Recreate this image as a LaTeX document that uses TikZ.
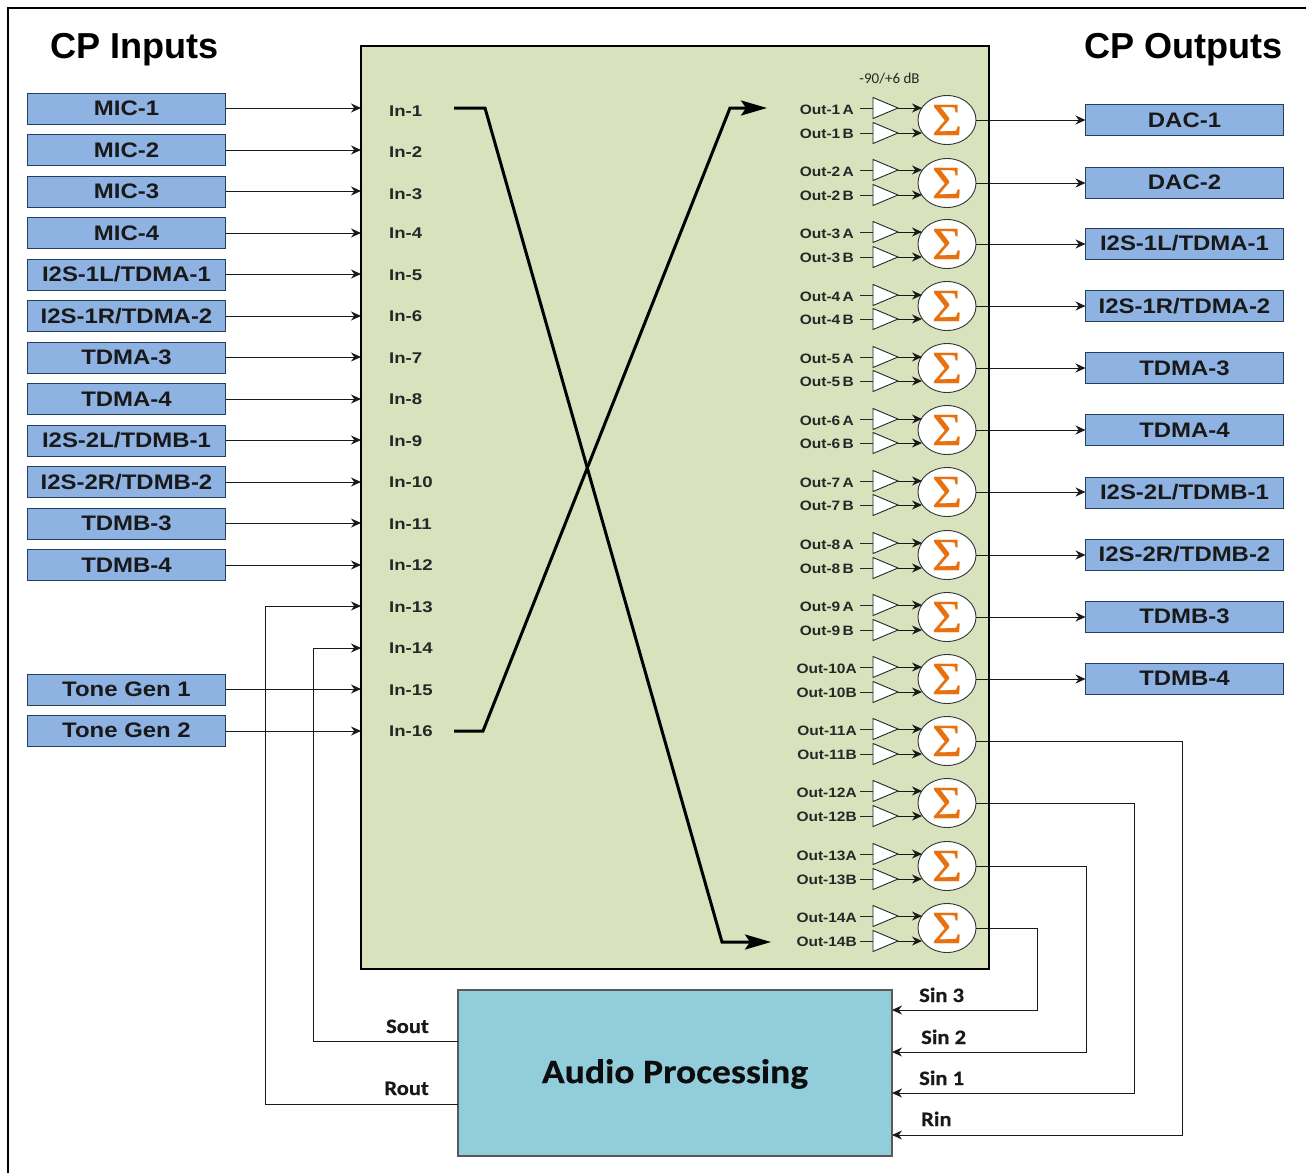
\documentclass[tikz,border=0pt]{standalone}
\usepackage{fontspec}
\usetikzlibrary{arrows.meta,shapes.geometric,calc}
\setmainfont{Liberation Sans}
\newfontfamily\widefont[FakeStretch=1.14]{Liberation Sans}
\newfontfamily\midfont[FakeStretch=1.2]{Liberation Sans}
\newfontfamily\calfont{Carlito}
\newfontfamily\calbold[FakeStretch=1.1,FakeBold=0.4]{Carlito}
\newfontfamily\sigfont[FakeStretch=1.12,FakeBold=0.6]{Liberation Serif}
\definecolor{panelgreen}{HTML}{D8E3BE}
\definecolor{portblue}{HTML}{8EB2E2}
\definecolor{portedge}{HTML}{24405F}
\definecolor{dspblue}{HTML}{92CDDC}
\definecolor{sigorange}{HTML}{E8710F}
\tikzset{
  x=1pt,y=-1pt,
  portbox/.style={draw=portedge,fill=portblue,line width=1pt,minimum width=198pt,minimum height=31pt,inner sep=0pt,outer sep=0pt,
    font=\widefont\bfseries\fontsize{21}{24}\selectfont,text=black!90},
  title/.style={font=\bfseries\fontsize{36.1}{40}\selectfont,inner sep=0pt},
  inlab/.style={anchor=west,inner sep=0pt,font=\midfont\bfseries\fontsize{15.5}{18}\selectfont,text=black!85},
  outlab/.style={anchor=east,inner ysep=0pt,font=\widefont\bfseries\fontsize{13.6}{15}\selectfont,text=black!85},
  amp/.style={draw=black!85,fill=white,line width=.9pt,isosceles triangle,isosceles triangle stretches,
    minimum width=21pt,minimum height=25pt,inner sep=0pt,outer sep=0pt,anchor=lower side},
  sumnode/.style={draw=black!80,fill=white,ellipse,line width=.9pt,minimum width=58pt,minimum height=49pt,inner sep=0pt,outer sep=0pt,
    text=sigorange,font=\sigfont\fontsize{46}{46}\selectfont},
  wire/.style={line width=1pt,draw=black!90,-{Stealth[length=10pt,width=9pt]}},
  stub/.style={line width=1pt,draw=black!85},
  xwire/.style={line width=3pt,draw=black,line join=miter,-{Stealth[length=26pt,width=15pt,inset=5pt]}},
  sig/.style={font=\calbold\bfseries\fontsize{20.5}{22}\selectfont,inner sep=0pt,text=black!90},
}
\begin{document}
\begin{tikzpicture}
\useasboundingbox (0,0) rectangle (1306,1173);
\draw[line width=2pt] (8,1173) -- (8,8) -- (1306,8);

\node[title,anchor=base west] (tin) at (50,58) {CP Inputs};
\node[title,anchor=base east] (tout) at (1283,58) {CP Outputs};

% panel
\node[draw=black,line width=2.5pt,fill=panelgreen,minimum width=628pt,minimum height=923pt,inner sep=0pt,outer sep=0pt,anchor=north west] (panel) at (361,46) {};
\node[anchor=base,inner sep=0pt,font=\calfont\fontsize{15}{17}\selectfont,text=black!85] (gain) at (889.5,83) {-90/+6 dB};

% audio processing
\node[draw=black!65,line width=1.2pt,fill=dspblue,minimum width=434pt,minimum height=166pt,inner sep=0pt,outer sep=0pt,anchor=north west] (dsp) at (458,990) {};
\node[inner sep=0pt,font=\calbold\bfseries\fontsize{34.2}{36}\selectfont,text=black!95] (dsptext) at (675,1074) {Audio Processing};

% input labels and entry points
\foreach \n/\yy/\yl in {1/108/111,2/150/152,3/191/194,4/233/233,5/274/275,6/316/316,7/357/358,8/399/399,
    9/440/441,10/482/482,11/523/524,12/565/565,13/606/607,14/648/648,15/689/690,16/731/731}{
  \node[inlab] (in\n) at (389,\yl) {In-\n};
  \coordinate (pin\n) at (361,\yy);
}

% input ports
\foreach \n/\yy/\t in {1/108.5/MIC-1,2/150/MIC-2,3/191.5/MIC-3,4/233/MIC-4,
    5/274.5/I2S-1L\slash TDMA-1,6/316/I2S-1R\slash TDMA-2,7/357.5/TDMA-3,8/399/TDMA-4,
    9/440.5/I2S-2L\slash TDMB-1,10/482/I2S-2R\slash TDMB-2,11/523.5/TDMB-3,12/565/TDMB-4,
    15/689.5/Tone Gen~1,16/730.5/Tone Gen~2}{
  \node[portbox] (ip\n) at (126.5,\yy) {\t};
  \draw[wire] (ip\n.east |- pin\n) -- (pin\n);
}

% output ports
\foreach \n/\yy/\t in {1/120/DAC-1,2/182.5/DAC-2,3/243.5/I2S-1L\slash TDMA-1,4/306/I2S-1R\slash TDMA-2,
    5/368/TDMA-3,6/430/TDMA-4,7/492.5/I2S-2L\slash TDMB-1,8/554.5/I2S-2R\slash TDMB-2,9/616.5/TDMB-3,10/678.5/TDMB-4}{
  \node[portbox] (op\n) at (1184.5,\yy) {\t};
}

% mixers
\foreach \n/\yy/\ya/\yb in {1/120/108/133,2/183/170/195,3/244/232/257,4/306/295/319,5/368/357/381,
    6/430/419/443,7/492/481/505,8/555/543/568,9/617/605/630,10/679/667/692,
    11/741/729/754,12/803/791/816,13/866/854/879,14/928/916/941}{
  \node[sumnode] (s\n) at (947,\yy) {\raisebox{-1.5pt}{Σ}};
  \node[amp] (ta\n) at (873,\ya) {};
  \node[amp] (tb\n) at (873,\yb) {};
  \ifnum\n<10
    \node[outlab,inner xsep=6pt] (la\n) at (860,\ya+1.5) {Out-\n\,A};
    \node[outlab,inner xsep=6pt] (lb\n) at (860,\yb+0.5) {Out-\n\,B};
  \else
    \node[outlab,inner xsep=3pt] (la\n) at (860,\ya+1.5) {Out-\n A};
    \node[outlab,inner xsep=3pt] (lb\n) at (860,\yb+0.5) {Out-\n B};
  \fi
  \draw[stub] (la\n.east |- ta\n.lower side) -- (ta\n.lower side);
  \draw[stub] (lb\n.east |- tb\n.lower side) -- (tb\n.lower side);
  \draw[wire] (ta\n.apex) -- ([xshift=4pt]ta\n.apex -| s\n.west);
  \draw[wire] (tb\n.apex) -- ([xshift=4pt]tb\n.apex -| s\n.west);
}
\foreach \n in {1,...,10}{ \draw[wire] (s\n.east) -- (s\n.east -| op\n.west); }

% crossing routes
\coordinate (xa) at (454,108); \coordinate (xb) at (767,108);
\coordinate (xc) at (454,731); \coordinate (xd) at (771,942);
\draw[xwire] (xa) -- (485,108) -- (722,942) -- (xd);
\draw[xwire] (xc) -- (483,731) -- (730,108) -- (xb);

% audio processing inputs
\coordinate (sin3) at (892,1010); \coordinate (sin2) at (892,1052);
\coordinate (sin1) at (892,1093); \coordinate (rin) at (892,1135);
\draw[wire] (s14.east) -- (1037,928) -- (1037,1010) -- (sin3);
\draw[wire] (s13.east) -- (1086,866) -- (1086,1052) -- (sin2);
\draw[wire] (s12.east) -- (1134,803) -- (1134,1093) -- (sin1);
\draw[wire] (s11.east) -- (1182,741) -- (1182,1135) -- (rin);

\node[sig,anchor=base west] (lsin3) at (919,1002) {Sin 3};
\node[sig,anchor=base west] (lsin2) at (921,1044) {Sin 2};
\node[sig,anchor=base west] (lsin1) at (919,1085) {Sin 1};
\node[sig,anchor=base west] (lrin) at (921,1126) {Rin};

% audio processing outputs
\coordinate (sout) at (458,1041); \coordinate (rout) at (458,1104);
\draw[wire] (sout) -- (313,1041) -- (313,648) -- (pin14);
\draw[wire] (rout) -- (265,1104) -- (265,606) -- (pin13);
\node[sig,anchor=base east] (lsout) at (429,1033) {Sout};
\node[sig,anchor=base east] (lrout) at (429,1095) {Rout};
\end{tikzpicture}
\end{document}
